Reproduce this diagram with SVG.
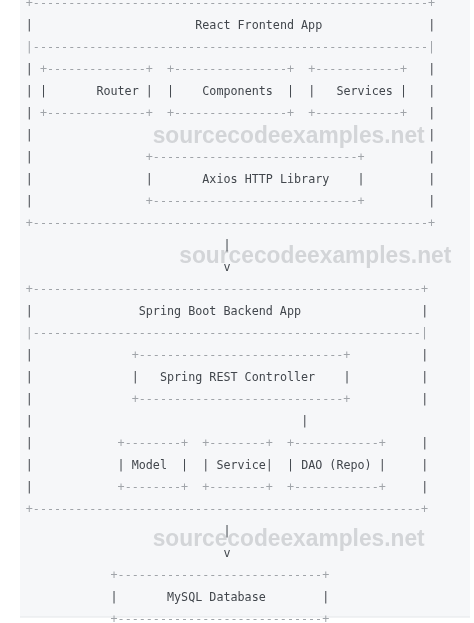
<svg xmlns="http://www.w3.org/2000/svg" width="474" height="623" viewBox="0 0 474 623">
<style>
text{font-family:"DejaVu Sans Mono","Liberation Mono",monospace;font-size:11.73px;fill:#42474d;white-space:pre}
text.l{fill:#a0a4a9}
text.wm{font-family:"Liberation Sans",Arial,sans-serif;font-weight:bold;font-size:24px;fill:#d3d5d8}
</style>
<defs>
<filter id="gray" x="0" y="0" width="474" height="623" filterUnits="userSpaceOnUse"><feOffset dx="0" dy="0"/></filter>
</defs>
<rect x="0" y="0" width="474" height="623" fill="#ffffff"/>
<rect x="20" y="0" width="450" height="617" fill="#f6f7f9"/>
<line x1="20" y1="617" x2="470" y2="617" stroke="#e4e6e9" stroke-width="1"/>

<g filter="url(#gray)">
<g id="watermarks">
<text class="wm" x="152.7" y="143" textLength="272" lengthAdjust="spacingAndGlyphs">sourcecodeexamples.net</text>
<text class="wm" x="179.3" y="263" textLength="272" lengthAdjust="spacingAndGlyphs">sourcecodeexamples.net</text>
<text class="wm" x="152.7" y="546" textLength="272" lengthAdjust="spacingAndGlyphs">sourcecodeexamples.net</text>
</g>

<g id="frontend">
<text class="l" x="25.8" y="7.3">+--------------------------------------------------------+</text>
<text x="25.8" y="29.3">|</text><text x="195.24" y="29.3">React Frontend App</text><text x="428.22" y="29.3">|</text>
<text class="l" x="25.8" y="51.3">|--------------------------------------------------------|</text>
<text x="25.8" y="73.3">|</text><text x="428.22" y="73.3">|</text>
<text x="25.8" y="95.3">|</text><text x="428.22" y="95.3">|</text>
<text x="25.8" y="117.3">|</text><text x="428.22" y="117.3">|</text>
<text x="25.8" y="139.3">|</text><text x="428.22" y="139.3">|</text>
<text x="25.8" y="161.3">|</text><text x="428.22" y="161.3">|</text>
<text x="25.8" y="183.3">|</text><text x="428.22" y="183.3">|</text>
<text x="25.8" y="205.3">|</text><text x="428.22" y="205.3">|</text>
<text class="l" x="25.8" y="227.3">+--------------------------------------------------------+</text>
</g>

<g id="router">
<text class="l" x="39.92" y="73.3">+--------------+</text>
<text x="39.92" y="95.3">|</text><text x="96.4" y="95.3">Router</text><text x="145.82" y="95.3">|</text>
<text class="l" x="39.92" y="117.3">+--------------+</text>
</g>

<g id="components">
<text class="l" x="167" y="73.3">+----------------+</text>
<text x="167" y="95.3">|</text><text x="202.3" y="95.3">Components</text><text x="287.02" y="95.3">|</text>
<text class="l" x="167" y="117.3">+----------------+</text>
</g>

<g id="services">
<text class="l" x="308.2" y="73.3">+------------+</text>
<text x="308.2" y="95.3">|</text><text x="336.44" y="95.3">Services</text><text x="399.98" y="95.3">|</text>
<text class="l" x="308.2" y="117.3">+------------+</text>
</g>

<g id="axios">
<text class="l" x="145.82" y="161.3">+-----------------------------+</text>
<text x="145.82" y="183.3">|</text><text x="202.3" y="183.3">Axios HTTP Library</text><text x="357.62" y="183.3">|</text>
<text class="l" x="145.82" y="205.3">+-----------------------------+</text>
</g>

<g id="connectors">
<text x="223.48" y="249.3">|</text>
<text x="223.48" y="271.3">v</text>
<text x="301.14" y="425.3">|</text>
<text x="223.48" y="535.3">|</text>
<text x="223.48" y="557.3">v</text>
</g>

<g id="backend">
<text class="l" x="25.8" y="293.3">+-------------------------------------------------------+</text>
<text x="25.8" y="315.3">|</text><text x="138.76" y="315.3">Spring Boot Backend App</text><text x="421.16" y="315.3">|</text>
<text class="l" x="25.8" y="337.3">|-------------------------------------------------------|</text>
<text x="25.8" y="359.3">|</text><text x="421.16" y="359.3">|</text>
<text x="25.8" y="381.3">|</text><text x="421.16" y="381.3">|</text>
<text x="25.8" y="403.3">|</text><text x="421.16" y="403.3">|</text>
<text x="25.8" y="425.3">|</text>
<text x="25.8" y="447.3">|</text><text x="421.16" y="447.3">|</text>
<text x="25.8" y="469.3">|</text><text x="421.16" y="469.3">|</text>
<text x="25.8" y="491.3">|</text><text x="421.16" y="491.3">|</text>
<text class="l" x="25.8" y="513.3">+-------------------------------------------------------+</text>
</g>

<g id="controller">
<text class="l" x="131.7" y="359.3">+-----------------------------+</text>
<text x="131.7" y="381.3">|</text><text x="159.94" y="381.3">Spring REST Controller</text><text x="343.5" y="381.3">|</text>
<text class="l" x="131.7" y="403.3">+-----------------------------+</text>
</g>

<g id="model">
<text class="l" x="117.58" y="447.3">+--------+</text>
<text x="117.58" y="469.3">|</text><text x="131.7" y="469.3">Model</text><text x="181.12" y="469.3">|</text>
<text class="l" x="117.58" y="491.3">+--------+</text>
</g>

<g id="service">
<text class="l" x="202.3" y="447.3">+--------+</text>
<text x="202.3" y="469.3">|</text><text x="216.42" y="469.3">Service</text><text x="265.84" y="469.3">|</text>
<text class="l" x="202.3" y="491.3">+--------+</text>
</g>

<g id="dao">
<text class="l" x="287.02" y="447.3">+------------+</text>
<text x="287.02" y="469.3">|</text><text x="301.14" y="469.3">DAO (Repo)</text><text x="378.8" y="469.3">|</text>
<text class="l" x="287.02" y="491.3">+------------+</text>
</g>

<g id="mysql">
<text class="l" x="110.52" y="579.3">+-----------------------------+</text>
<text x="110.52" y="601.3">|</text><text x="167" y="601.3">MySQL Database</text><text x="322.32" y="601.3">|</text>
<text class="l" x="110.52" y="623.3">+-----------------------------+</text>
</g>
</g>
</svg>
